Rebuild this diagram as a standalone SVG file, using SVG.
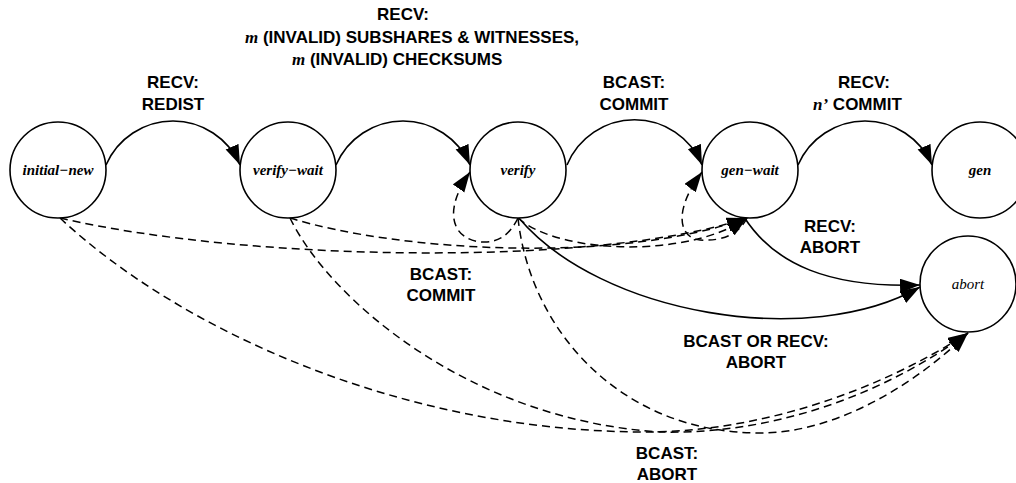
<svg xmlns="http://www.w3.org/2000/svg" width="1016" height="483" viewBox="0 0 1016 483">
  <style>
    .node circle { fill: #fff; stroke: #000; stroke-width: 1.6; }
    .node text { font-family: "Liberation Serif", "Times New Roman", serif; font-style: italic; font-weight: bold; font-size: 15px; text-anchor: middle; fill: #000; }
    .node text.thin { font-weight: normal; }
    .edge { fill: none; stroke: #000; stroke-width: 1.6; }
    .dash { stroke-dasharray: 8 5; stroke-width: 1.5; }
    .lbl { font-family: "Liberation Sans", Arial, sans-serif; font-weight: bold; font-size: 17px; fill: #000; }
    .lbl.c { text-anchor: middle; }
    .it { font-family: "Liberation Serif", "Times New Roman", serif; font-style: italic; }
  </style>
  <defs>
    <marker id="arrow" markerUnits="userSpaceOnUse" markerWidth="22" markerHeight="16" refX="20" refY="7" orient="auto">
      <path d="M0,0 L20,7 L0,14 z" fill="#000"/>
    </marker>
  </defs>

  <!-- transitions -->
  <g id="connectors">
    <!-- solid: normal progress -->
    <path class="edge" d="M106,165 A73,73 0 0 1 240,165" marker-end="url(#arrow)"/>
    <path class="edge" d="M336,165 A73,73 0 0 1 470,165" marker-end="url(#arrow)"/>
    <path class="edge" d="M567,165 A73,73 0 0 1 702,165" marker-end="url(#arrow)"/>
    <path class="edge" d="M798,165 A73,73 0 0 1 932,165" marker-end="url(#arrow)"/>
    <path class="edge" d="M744,217 C775,265 830,288 920,285" marker-end="url(#arrow)"/>
    <path class="edge" d="M518,217 C600,315 810,350 920,287" marker-end="url(#arrow)"/>

    <!-- dashed: into gen-wait -->
    <path class="edge dash" d="M60,218 C250,262 600,267 747,218" marker-end="url(#arrow)"/>
    <path class="edge dash" d="M290,218 C400,252 620,264 747,218" marker-end="url(#arrow)"/>
    <path class="edge dash" d="M518,218 C560,255 690,258 747,218" marker-end="url(#arrow)"/>
    <path class="edge dash" d="M747,218 Q735,242 700,240 C682,239 670,215 702,172" marker-end="url(#arrow)"/>
    <path class="edge dash" d="M518,218 Q506,243 483,242 C455,241 440,215 470,172" marker-end="url(#arrow)"/>

    <!-- dashed: into abort -->
    <path class="edge dash" d="M60,218 C180,330 400,430 640,432 C760,433 880,390 968,333" marker-end="url(#arrow)"/>
    <path class="edge dash" d="M290,218 C330,300 470,420 660,432 C780,435 890,390 968,333" marker-end="url(#arrow)"/>
    <path class="edge dash" d="M518,218 C530,330 620,433 760,433 C840,433 920,380 968,333" marker-end="url(#arrow)"/>
  </g>

  <!-- transition labels -->
  <g id="labels">
    <text class="lbl c" x="173" y="88">RECV:</text>
    <text class="lbl c" x="173" y="109.5">REDIST</text>

    <text class="lbl c" x="403" y="20">RECV:</text>
    <text class="lbl" x="245" y="43"><tspan class="it">m</tspan> (INVALID) SUBSHARES &amp; WITNESSES,</text>
    <text class="lbl" x="292" y="65"><tspan class="it">m</tspan> (INVALID) CHECKSUMS</text>

    <text class="lbl c" x="634" y="88">BCAST:</text>
    <text class="lbl c" x="634" y="109.5">COMMIT</text>

    <text class="lbl c" x="864" y="88">RECV:</text>
    <text class="lbl" x="813" y="109.5"><tspan class="it">n’</tspan> COMMIT</text>

    <text class="lbl c" x="830" y="232">RECV:</text>
    <text class="lbl c" x="830" y="253">ABORT</text>

    <text class="lbl c" x="441" y="280">BCAST:</text>
    <text class="lbl c" x="441" y="301">COMMIT</text>

    <text class="lbl c" x="756" y="347">BCAST OR RECV:</text>
    <text class="lbl c" x="756" y="368">ABORT</text>

    <text class="lbl c" x="667" y="459">BCAST:</text>
    <text class="lbl c" x="667" y="480">ABORT</text>
  </g>

  <!-- states -->
  <g id="initial-new" class="node">
    <circle cx="58" cy="170" r="48"/>
    <text x="58" y="175">initial−new</text>
  </g>
  <g id="verify-wait" class="node">
    <circle cx="288" cy="170" r="48"/>
    <text x="288" y="175">verify−wait</text>
  </g>
  <g id="verify" class="node">
    <circle cx="518" cy="170" r="48"/>
    <text x="518" y="175">verify</text>
  </g>
  <g id="gen-wait" class="node">
    <circle cx="750" cy="170" r="48"/>
    <text x="750" y="175">gen−wait</text>
  </g>
  <g id="gen" class="node">
    <circle cx="980" cy="170" r="48"/>
    <text x="980" y="175">gen</text>
  </g>
  <g id="abort" class="node">
    <circle cx="968" cy="284" r="48"/>
    <text class="thin" x="968" y="289">abort</text>
  </g>
</svg>
